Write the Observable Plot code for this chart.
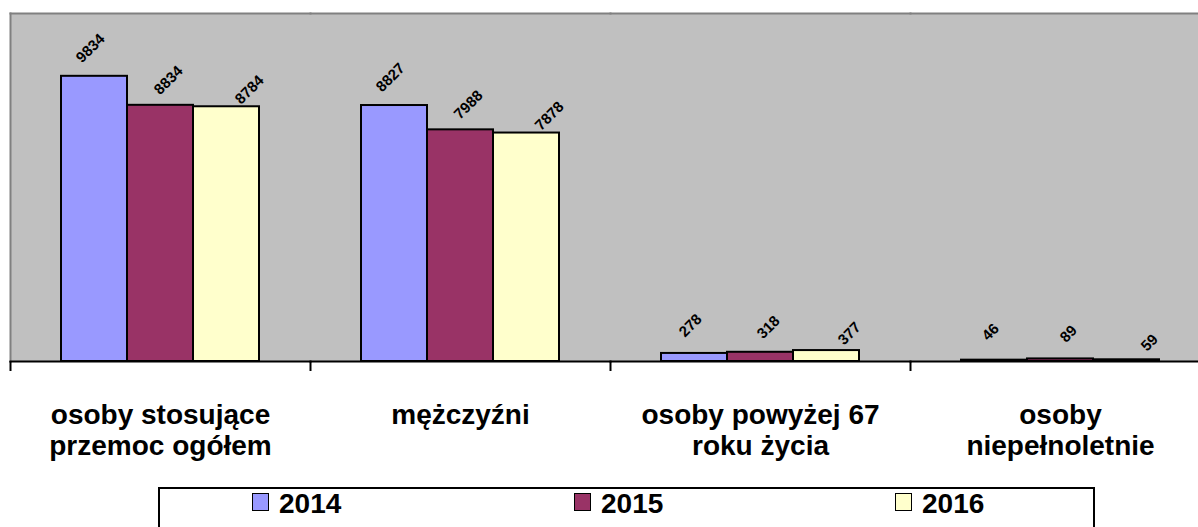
<!DOCTYPE html>
<html>
<head>
<meta charset="utf-8">
<script src="https://cdn.jsdelivr.net/npm/d3@7"></script>
<script src="https://cdn.jsdelivr.net/npm/@observablehq/plot@0.6"></script>
<style>
  html, body { margin: 0; padding: 0; background: #fff; overflow: hidden; width: 1198px; height: 527px; }
  #chart { position: relative; width: 1220px; }
  #legend { position: relative; margin-left: 158px; margin-top: 7px; width: 937px; height: 60px;
            border: 2px solid #000; box-sizing: border-box; font-family: "Liberation Sans", Arial, sans-serif; }
  .item { position: absolute; top: 1px; display: flex; align-items: flex-start; line-height: 27px;
          font-size: 28px; font-weight: bold; color: #000; }
  .sw { width: 15px; height: 16px; border: 1.5px solid #000; margin-top: 3px; margin-right: 10px; box-sizing: content-box; }
</style>
</head>
<body>
<div id="chart"></div>
<div id="legend"></div>
<script>
const categories = ["osoby stosujące\nprzemoc ogółem", "mężczyźni", "osoby powyżej 67\nroku życia", "osoby\nniepełnoletnie"];
const years = ["2014", "2015", "2016"];
const values2014 = [9834, 8827, 278, 46];
const values2015 = [8834, 7988, 318, 89];
const values2016 = [8784, 7878, 377, 59];
const colors = ["#9999FF", "#993366", "#FFFFCC"];

const series = [values2014, values2015, values2016];
const data = [];
categories.forEach((cat, i) => {
  years.forEach((yr, j) => data.push({cat, year: yr, value: series[j][i]}));
});

const W = 1220, mL = 10, mR = 10;
const halfBand = (W - mL - mR) / categories.length / 2;
const labelOffsets = {"2014": [-4, -28], "2015": [8, -25], "2016": [23, -17]};

const chart = Plot.plot({
  width: W,
  height: 480,
  marginTop: 13,
  marginLeft: mL,
  marginRight: mR,
  marginBottom: 119,
  style: {fontFamily: '"Liberation Sans", Arial, sans-serif', background: "transparent", color: "#000"},
  fx: {domain: categories, padding: 0, label: null},
  x: {domain: years, type: "band", paddingInner: 0, paddingOuter: 0.75, axis: null},
  y: {domain: [0, 12000], axis: null},
  color: {domain: years, range: colors},
  marks: [
    Plot.frame({fill: "#C0C0C0", stroke: "none", shapeRendering: "crispEdges", insetRight: -1}),
    Plot.frame({anchor: "top", stroke: "#808080", strokeWidth: 2}),
    Plot.frame({anchor: "left", facetAnchor: "left", stroke: "#808080", strokeWidth: 2}),
    Plot.barY(data, {fx: "cat", x: "year", y: "value", fill: "year", stroke: "#000", strokeWidth: 2}),
    ...years.map(yr => Plot.text(data.filter(d => d.year === yr), {
      fx: "cat", x: "year", y: "value", text: d => String(d.value),
      rotate: -45, dx: labelOffsets[yr][0], dy: labelOffsets[yr][1],
      fontSize: 15, fontWeight: "bold", textAnchor: "middle", lineAnchor: "middle", fill: "#000"
    })),
    Plot.frame({anchor: "bottom", stroke: "#000", strokeWidth: 2}),
    Plot.axisFx({anchor: "bottom", tickSize: 10, tickFormat: () => "", dx: -halfBand, stroke: "#000", strokeWidth: 2, label: null}),
    Plot.axisFx({anchor: "bottom", tickSize: 0, tickPadding: 41, fontSize: 28, fontWeight: "bold", lineHeight: 1.1, fill: "#000", label: null})
  ]
});
document.getElementById("chart").appendChild(chart);

const itemLeft = [94, 416, 737];
const legend = document.getElementById("legend");
years.forEach((yr, i) => {
  const it = document.createElement("div");
  it.className = "item";
  it.style.left = (itemLeft[i] - 2) + "px";
  const sw = document.createElement("div");
  sw.className = "sw";
  sw.style.background = colors[i];
  const tx = document.createElement("span");
  tx.textContent = yr;
  it.appendChild(sw);
  it.appendChild(tx);
  legend.appendChild(it);
});
</script>
</body>
</html>
